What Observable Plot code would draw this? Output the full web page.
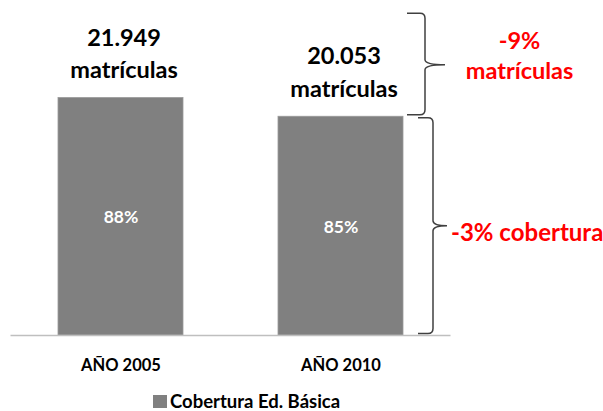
<!DOCTYPE html>
<html>
<head>
<meta charset="utf-8">
<script src="https://cdn.jsdelivr.net/npm/d3@7"></script>
<script src="https://cdn.jsdelivr.net/npm/@observablehq/plot@0.6"></script>
<style>
  html, body { margin: 0; padding: 0; background: #fff; }
  body { width: 603px; height: 411px; position: relative; overflow: hidden; font-family: Lato, "Open Sans", sans-serif; }
  #legend { position: absolute; left: 153px; top: 390px; display: flex; align-items: center; font-weight: bold; font-size: 18.5px; color: #000; white-space: nowrap; }
  #legend .sw { width: 14px; height: 13px; background: #808080; margin-right: 3px; display: inline-block; }
</style>
</head>
<body>
<div id="chart"></div>
<div id="legend"><span class="sw"></span><span id="legtext"></span></div>
<script>
// ---- data ----
const years = ["AÑO 2005", "AÑO 2010"];
const coverage = [88, 85];            // % cobertura
const enrollments = [21949, 20053];   // matrículas
const yDomain = [50, 100];
const braceFrom = [101.5, 85];
const braceTo = [85, 50];
const braceLabels = ["-9%\nmatrículas", "-3% cobertura"];
const legendLabel = "Cobertura Ed. Básica";

const data = years.map((y, i) => ({year: y, cov: coverage[i], n: enrollments[i]}));
const braces = braceFrom.map((f, i) => ({from: f, to: braceTo[i], label: braceLabels[i], i}));
const fmt = d3.formatLocale({decimal: ",", thousands: ".", grouping: [3], currency: ["", ""]}).format(",d");

function braceMark(index, scales, values, dimensions) {
  const g = d3.create("svg:g").attr("fill", "none").attr("stroke", "#404040").attr("stroke-width", 1.5);
  const x = scales.x, y = scales.y;
  const xr = x(years[1]) + x.bandwidth();
  const geo = [[4, 22, 42], [15, 30, 44]];
  braces.forEach((b, i) => {
    const [a, v, t] = geo[i];
    const x0 = xr + a, xv = xr + v, xt = xr + t;
    const yT = y(b.from) + (i === 1 ? 1.5 : 0), yB = y(b.to) - 1.5, yM = (y(b.from) + y(b.to)) / 2;
    const r = 5;
    const p = `M${x0},${yT} L${xv - r},${yT} Q${xv},${yT} ${xv},${yT + r} L${xv},${yM - r} Q${xv},${yM} ${xt},${yM} Q${xv},${yM} ${xv},${yM + r} L${xv},${yB - r} Q${xv},${yB} ${xv - r},${yB} L${x0},${yB}`;
    g.append("path").attr("d", p);
  });
  return g.node();
}

const chart = Plot.plot({
  width: 603,
  height: 385,
  marginLeft: 10.5,
  marginRight: 152.5,
  marginTop: 22.5,
  marginBottom: 50,
  style: {fontFamily: "Lato, 'Open Sans', sans-serif", overflow: "visible", background: "#fff"},
  x: {domain: years, paddingInner: 0.432, paddingOuter: 0.216, axis: null, label: null},
  y: {domain: yDomain, axis: null},
  marks: [
    Plot.barY(data, {x: "year", y1: yDomain[0], y2: "cov", fill: "#808080", stroke: "#9a9a9a", strokeWidth: 0.8}),
    Plot.ruleY([yDomain[0]], {stroke: "#bfbfbf", strokeWidth: 1.6}),
    Plot.axisX({tickSize: 0, tickPadding: 24, fontSize: 16.5, fontWeight: "bold", fill: "#000", label: null}),
    Plot.text(data, {x: "year", y: d => (d.cov + yDomain[0]) / 2, text: d => d.cov + "%", fill: "#fff", fontSize: 17.5, fontWeight: "bold", dy: 1}),
    Plot.text(data, {x: "year", y: "cov", text: d => fmt(d.n) + "\nmatrículas", lineAnchor: "bottom", lineHeight: 1.38, dy: -20, dx: 3, fontSize: 23.5, fontWeight: "bold", fill: "#000"}),
    braceMark,
    Plot.text(braces.filter(b => b.i === 0), {y: d => (d.from + d.to) / 2, frameAnchor: "right", text: "label", dx: 68.5, dy: -11, textAnchor: "middle", lineHeight: 1.28, fontSize: 23.5, fontWeight: "bold", fill: "#ff0000"}),
    Plot.text(braces.filter(b => b.i === 1), {y: d => (d.from + d.to) / 2, frameAnchor: "right", text: "label", dx: 0, dy: 7, textAnchor: "start", fontSize: 24, fontWeight: "bold", fill: "#ff0000"})
  ]
});
document.getElementById("chart").appendChild(chart);
document.getElementById("legtext").textContent = legendLabel;
</script>
</body>
</html>
